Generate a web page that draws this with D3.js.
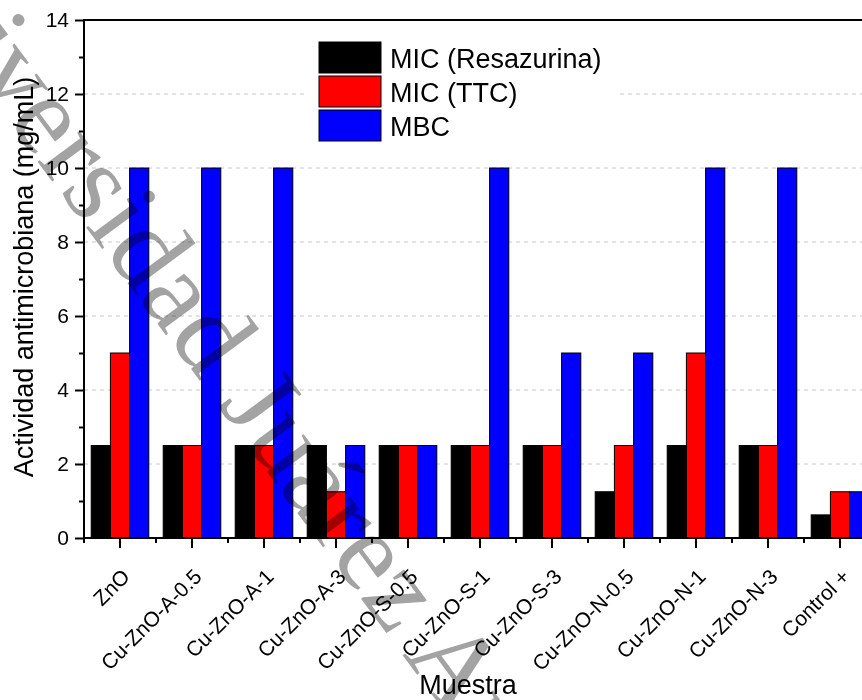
<!DOCTYPE html>
<html>
<head>
<meta charset="utf-8">
<script src="https://cdn.jsdelivr.net/npm/d3@7"></script>
<style>
  html, body { margin: 0; padding: 0; background: #ffffff; }
  svg { display: block; font-family: Arial, "Liberation Sans", sans-serif; }
</style>
</head>
<body>
<svg id="chart" width="862" height="700"></svg>
<script>
// Samples on the x axis
const categories = ["ZnO", "Cu-ZnO-A-0.5", "Cu-ZnO-A-1", "Cu-ZnO-A-3", "Cu-ZnO-S-0.5",
  "Cu-ZnO-S-1", "Cu-ZnO-S-3", "Cu-ZnO-N-0.5", "Cu-ZnO-N-1", "Cu-ZnO-N-3", "Control +"];

// Antimicrobial activity (mg/mL) per test
const micResazurina = [2.5, 2.5, 2.5, 2.5, 2.5, 2.5, 2.5, 1.25, 2.5, 2.5, 0.625];
const micTTC        = [5, 2.5, 2.5, 1.25, 2.5, 2.5, 2.5, 2.5, 5, 2.5, 1.25];
const mbc           = [10, 10, 10, 2.5, 2.5, 10, 5, 5, 10, 10, 1.25];

const seriesNames  = ["MIC (Resazurina)", "MIC (TTC)", "MBC"];
const seriesValues = [micResazurina, micTTC, mbc];
const seriesColors = ["#000000", "#ff0000", "#0000ff"];

const yTicks = [0, 2, 4, 6, 8, 10, 12, 14];
const yMinorTicks = [1, 3, 5, 7, 9, 11, 13];
const gridValues = [2, 4, 6, 8, 10, 12];

const xTitle = "Muestra";
const yTitle = "Actividad antimicrobiana (mg/mL)";
const watermark = "Universidad Juárez Autónoma de Tabasco";

const svg = d3.select("#chart");
const mLeft = 84, mTop = 20, mBottom = 538, mRight = 876;

const x = d3.scaleBand().domain(categories).range([mLeft, mRight])
  .paddingInner(0.2).paddingOuter(0.1);
const step = x.step();
const xs = d3.scaleBand().domain(d3.range(seriesNames.length)).range([0, x.bandwidth()]);
const y = d3.scaleLinear().domain([0, 14]).range([mBottom, mTop]);

// dashed horizontal grid
svg.append("g").selectAll("line").data(gridValues).join("line")
  .attr("x1", mLeft).attr("x2", mRight)
  .attr("y1", d => y(d)).attr("y2", d => y(d))
  .attr("stroke", "#c8c8c8").attr("stroke-width", 1)
  .attr("stroke-dasharray", "4,4");

// bars
const rows = categories.map((c, i) => ({ c, v: seriesValues.map(s => s[i]) }));
const groups = svg.append("g").selectAll("g").data(rows).join("g")
  .attr("transform", d => `translate(${x(d.c)},0)`);
groups.selectAll("rect").data(d => d.v.map((v, k) => ({ v, k }))).join("rect")
  .attr("x", d => xs(d.k)).attr("width", xs.bandwidth())
  .attr("y", d => y(d.v)).attr("height", d => y(0) - y(d.v))
  .attr("fill", d => seriesColors[d.k])
  .attr("stroke", "#000").attr("stroke-width", 1);

// y axis
const yAxis = svg.append("g").attr("transform", `translate(${mLeft},0)`)
  .call(d3.axisLeft(y).tickValues(yTicks).tickSize(9).tickPadding(6).tickFormat(d3.format("d")));
yAxis.select(".domain").remove();
yAxis.selectAll("line").attr("stroke", "#000").attr("stroke-width", 2);
yAxis.selectAll("text").attr("font-size", 21).attr("fill", "#000")
  .attr("font-family", "Arial, 'Liberation Sans', sans-serif");
svg.append("g").attr("transform", `translate(${mLeft},0)`)
  .call(d3.axisLeft(y).tickValues(yMinorTicks).tickSize(5).tickFormat(""))
  .call(g => g.select(".domain").remove())
  .selectAll("line").attr("stroke", "#000").attr("stroke-width", 2);

// x axis: major ticks at samples, minor ticks between
const xAxis = svg.append("g").attr("transform", `translate(0,${mBottom})`)
  .call(d3.axisBottom(x).tickSize(10).tickFormat(""));
xAxis.select(".domain").remove();
xAxis.selectAll("line").attr("stroke", "#000").attr("stroke-width", 2);
const minor = d3.range(categories.length + 1).map(i => mLeft + i * step);
svg.append("g").selectAll("line").data(minor).join("line")
  .attr("x1", d => d).attr("x2", d => d).attr("y1", mBottom).attr("y2", mBottom + 5)
  .attr("stroke", "#000").attr("stroke-width", 2);

// rotated sample labels
svg.append("g").selectAll("text").data(categories).join("text")
  .attr("transform", d => `translate(${x(d) + x.bandwidth() / 2 + 11},578) rotate(-45)`)
  .attr("text-anchor", "end").attr("font-size", 21).attr("fill", "#000")
  .text(d => d);

// frame
svg.append("path")
  .attr("d", `M${mLeft},${mBottom}H${mRight}V${mTop}H${mLeft}Z`)
  .attr("fill", "none").attr("stroke", "#000").attr("stroke-width", 2);

// axis titles
svg.append("text").attr("x", 468).attr("y", 694).attr("text-anchor", "middle")
  .attr("font-size", 27).attr("fill", "#000").text(xTitle);
svg.append("text").attr("transform", "translate(33,277) rotate(-90)")
  .attr("text-anchor", "middle").attr("font-size", 27).attr("fill", "#000").text(yTitle);

// legend
const lg = svg.append("g");
lg.append("rect").attr("x", 305).attr("y", 32).attr("width", 315).attr("height", 116).attr("fill", "#fff");
const items = lg.selectAll("g").data(seriesNames).join("g")
  .attr("transform", (d, i) => `translate(319,${42 + i * 34})`);
items.append("rect").attr("width", 62).attr("height", 31)
  .attr("fill", (d, i) => seriesColors[i]).attr("stroke", "#000").attr("stroke-width", 1);
items.append("text").attr("x", 71).attr("y", 26).attr("font-size", 27).attr("fill", "#000")
  .text(d => d);

// watermark, multiplied over the chart
svg.append("text")
  .attr("transform", "translate(-128,-62) rotate(53.5)")
  .attr("font-family", "'Liberation Serif', 'Times New Roman', serif")
  .attr("font-size", 113).attr("fill", "#a3a3a3")
  .style("mix-blend-mode", "multiply")
  .text(watermark);
</script>
</body>
</html>
